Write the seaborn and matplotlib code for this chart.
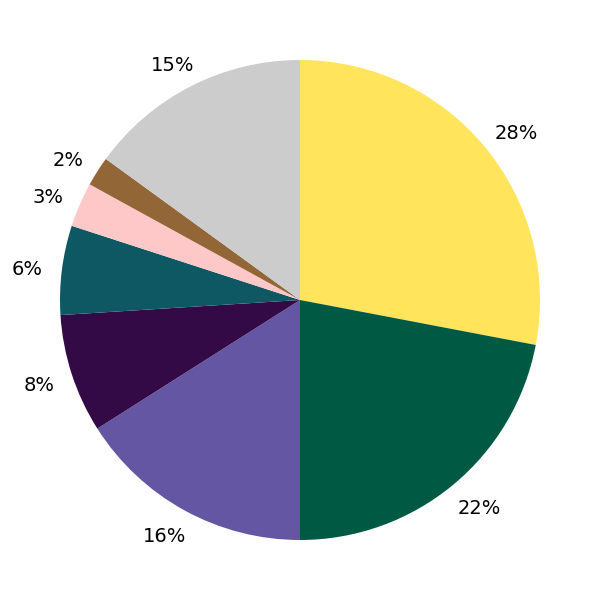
import matplotlib
matplotlib.use("Agg")
import matplotlib.pyplot as plt
import numpy as np
import seaborn as sns

sns.set_theme(style="white")
plt.rcParams['font.family'] = ['DejaVu Sans']

categories = ["A", "B", "C", "D", "E", "F", "G", "H"]
values = [28, 22, 16, 8, 6, 3, 2, 15]
labels = [f"{v}%" for v in values]
colors = ["#FFE45C", "#005A43", "#6556A4", "#330A45", "#0D5863", "#FFC8C8", "#936637", "#CCCCCC"]

fig = plt.figure(figsize=(6, 6), dpi=100)
ax = fig.add_axes([0, 0, 1, 1])
wedges, _ = ax.pie(values, colors=colors, startangle=90, counterclock=False,
                   wedgeprops={"linewidth": 0, "edgecolor": "none"})
ax.set_aspect("equal")

renderer = fig.canvas.get_renderer()
for w, lab in zip(wedges, labels):
    ang = np.deg2rad((w.theta1 + w.theta2) / 2)
    c, s = np.cos(ang), np.sin(ang)
    tmp = ax.text(0, 0, lab, fontsize=14)
    bb = tmp.get_window_extent(renderer=renderer)
    tmp.remove()
    r = 1.08 * w.r
    ax.annotate(lab, xy=(r * c, r * s), xytext=(c * bb.width / 2, s * 7 - 3),
                textcoords="offset pixels", ha="center", va="center",
                fontsize=14, color="black")

fig.savefig("out.png", dpi=100, facecolor="white")
